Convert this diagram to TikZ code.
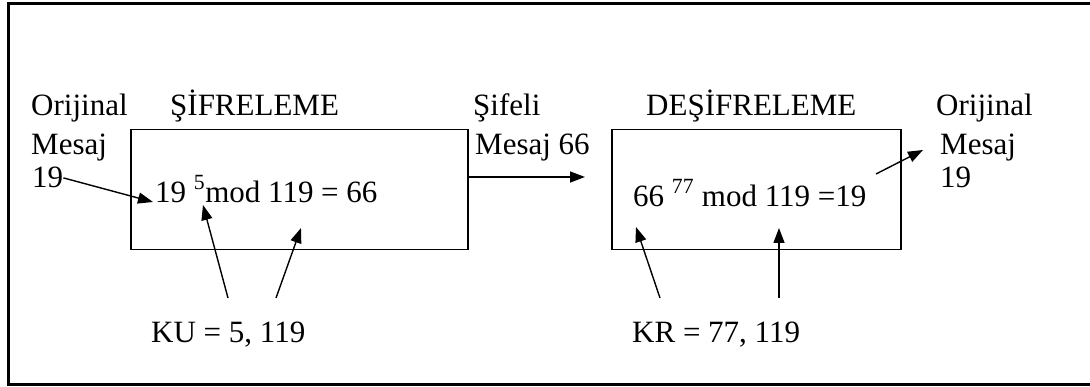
\documentclass[tikz,border=0pt]{standalone}
\usepackage{fontspec}
\setmainfont{Liberation Serif}
\usepackage{tikz}
\usetikzlibrary{shapes,arrows.meta,positioning,calc}
\newcommand{\diafont}{\fontsize{31}{36}\selectfont}
\tikzset{
    box/.style  = {
        rectangle, draw, line width=1.5pt, anchor=north west,
        minimum height=120pt, inner sep=0pt
    },
    lbl/.style  = {anchor=base west, inner sep=0pt, font=\diafont},
    line/.style = {draw, -{Triangle[length=15pt,width=11pt]}, line width=1.4pt}
}

\begin{document}
\begin{tikzpicture}[x=1pt, y=-1pt]
  \useasboundingbox (0,0) rectangle (1090,387);
  \draw [line width=3pt] (1090,3.5) -| (8.5,384) -- (1090,384);

  % boxes
  \node [box, minimum width=337pt] (enc) at (130,129) {};
  \node [box, minimum width=289pt] (dec) at (611,129) {};

  % titles
  \node [lbl] (encT) at (170,116) {ŞİFRELEME};
  \node [lbl] (decT) at (646,116) {DEŞİFRELEME};

  % plain message in
  \node [lbl] (in1) at (31,116) {Orijinal};
  \node [lbl] (in2) at (31,155) {Mesaj};
  \node [lbl] (in3) at (32,188) {19};

  % cipher text
  \node [lbl] (ct1) at (473,116) {Şifeli};
  \node [lbl] (ct2) at (475,155) {Mesaj 66};

  % plain message out
  \node [lbl] (out1) at (936,116) {Orijinal};
  \node [lbl] (out2) at (940,155) {Mesaj};
  \node [lbl] (out3) at (940,188) {19};

  % formulas
  \node [lbl] (encF) at (155,203) {19 \raisebox{4pt}{\textsuperscript{5}}mod 119 = 66};
  \node [lbl] (decF) at (633,207) {66 \raisebox{4pt}{\textsuperscript{77}} mod 119 =19};

  % keys
  \node [lbl] (ku) at (151,342) {KU = 5, 119};
  \node [lbl] (kr) at (632,342) {KR = 77, 119};

  \coordinate (inTip)  at (153,202);
  \coordinate (encOut) at (467,177);
  \coordinate (decIn)  at (585,177);
  \coordinate (outA)   at (876,174);
  \coordinate (outTip) at (923,150);
  \coordinate (kuA)    at (228,298);
  \coordinate (kuB)    at (276,298);
  \coordinate (kuATip) at (203,205);
  \coordinate (kuBTip) at (301,228);
  \coordinate (krA)    at (660,298);
  \coordinate (krB)    at (779,298);
  \coordinate (krATip) at (636,227);
  \coordinate (krBTip) at (779,228);

  \path [line] (in3.east) -- (inTip);
  \path [line] (encOut) -- (decIn);
  \path [line] (outA) -- (outTip);
  \path [line] (kuA) -- (kuATip);
  \path [line] (kuB) -- (kuBTip);
  \path [line] (krA) -- (krATip);
  \path [line] (krB) -- (krBTip);
\end{tikzpicture}
\end{document}
